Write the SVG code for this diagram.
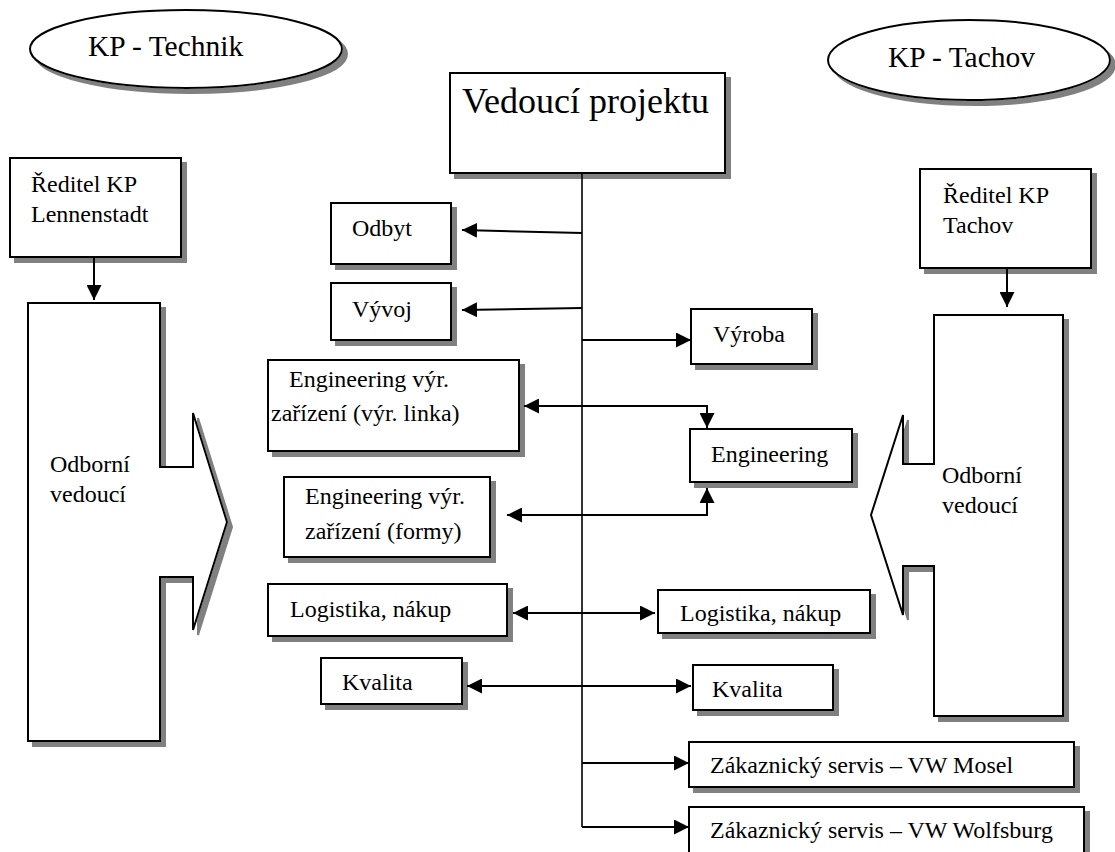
<svg xmlns="http://www.w3.org/2000/svg" width="1115" height="852" viewBox="0 0 1115 852">
  <style>
    .box { fill: #ffffff; stroke: #000000; stroke-width: 2; filter: url(#shadow); }
    .t { font-family: "Liberation Serif", "Times New Roman", serif; font-size: 24px; fill: #000000; }
    .big { font-size: 29.5px; }
    .title { font-size: 36px; }
    .link { fill: none; stroke: #000000; stroke-width: 2; }
    .trunk { fill: none; stroke: #000000; stroke-width: 1.6; }
  </style>
  <defs>
    <filter id="shadow" x="-10%" y="-10%" width="130%" height="130%">
      <feDropShadow dx="5" dy="5" stdDeviation="0" flood-color="#808080" flood-opacity="1"/>
    </filter>
    <marker id="head" viewBox="0 0 15 15" refX="15" refY="7.5" markerWidth="15" markerHeight="15" markerUnits="userSpaceOnUse" orient="auto-start-reverse">
      <path d="M0,0 L15,7.5 L0,15 Z" fill="#000000"/>
    </marker>
  </defs>
  <rect width="1115" height="852" fill="#ffffff"/>

  <!-- site labels -->
  <g id="kp-technik">
    <ellipse class="box" cx="186" cy="49" rx="156" ry="39"/>
    <text class="t big" x="88" y="56">KP - Technik</text>
  </g>
  <g id="kp-tachov">
    <ellipse class="box" cx="969" cy="60" rx="141" ry="40"/>
    <text class="t big" x="888" y="67">KP - Tachov</text>
  </g>

  <!-- project lead -->
  <g id="vedouci-projektu">
    <rect class="box" x="450" y="73" width="275" height="100"/>
    <text class="t title" x="462" y="113">Vedoucí projektu</text>
  </g>

  <!-- left side: Lennenstadt -->
  <g id="reditel-lennenstadt">
    <rect class="box" x="10" y="158" width="171" height="99"/>
    <text class="t" x="31" y="192">Ředitel KP</text>
    <text class="t" x="31" y="222">Lennenstadt</text>
  </g>
  <g id="odborni-vedouci-left">
    <path class="box" d="M28,303 H160 V467 H193 V413 L227,522 L193,630 V577 H160 V741 H28 Z"/>
    <text class="t" x="50" y="472">Odborní</text>
    <text class="t" x="50" y="502">vedoucí</text>
  </g>

  <!-- right side: Tachov -->
  <g id="reditel-tachov">
    <rect class="box" x="920" y="169" width="171" height="99"/>
    <text class="t" x="943" y="203">Ředitel KP</text>
    <text class="t" x="943" y="233">Tachov</text>
  </g>
  <g id="odborni-vedouci-right">
    <path class="box" d="M934,315 H1063 V716 H934 V566 H903 V615 L871,515 L903,415 V464 H934 Z"/>
    <text class="t" x="942" y="483">Odborní</text>
    <text class="t" x="942" y="513">vedoucí</text>
  </g>

  <!-- departments -->
  <g id="odbyt">
    <rect class="box" x="331" y="203" width="120" height="61"/>
    <text class="t" x="352" y="236">Odbyt</text>
  </g>
  <g id="vyvoj">
    <rect class="box" x="331" y="283" width="120" height="57"/>
    <text class="t" x="352" y="317">Vývoj</text>
  </g>
  <g id="vyroba">
    <rect class="box" x="691" y="309" width="121" height="55"/>
    <text class="t" x="713" y="342">Výroba</text>
  </g>
  <g id="engineering-linka">
    <rect class="box" x="268" y="360" width="251" height="91"/>
    <text class="t" x="289" y="387">Engineering výr.</text>
    <text class="t" x="271" y="421">zařízení (výr. linka)</text>
  </g>
  <g id="engineering">
    <rect class="box" x="690" y="429" width="162" height="53"/>
    <text class="t" x="711" y="462">Engineering</text>
  </g>
  <g id="engineering-formy">
    <rect class="box" x="284" y="477" width="206" height="80"/>
    <text class="t" x="305" y="504">Engineering výr.</text>
    <text class="t" x="305" y="539">zařízení (formy)</text>
  </g>
  <g id="logistika-left">
    <rect class="box" x="268" y="584" width="239" height="52"/>
    <text class="t" x="290" y="617">Logistika, nákup</text>
  </g>
  <g id="logistika-right">
    <rect class="box" x="658" y="590" width="212" height="43"/>
    <text class="t" x="680" y="621">Logistika, nákup</text>
  </g>
  <g id="kvalita-left">
    <rect class="box" x="321" y="658" width="141" height="46"/>
    <text class="t" x="342" y="690">Kvalita</text>
  </g>
  <g id="kvalita-right">
    <rect class="box" x="693" y="665" width="140" height="45"/>
    <text class="t" x="712" y="697">Kvalita</text>
  </g>
  <g id="servis-mosel">
    <rect class="box" x="689" y="742" width="385" height="45"/>
    <text class="t" x="710" y="773">Zákaznický servis – VW Mosel</text>
  </g>
  <g id="servis-wolfsburg">
    <rect class="box" x="689" y="807" width="395" height="70"/>
    <text class="t" x="710" y="838">Zákaznický servis – VW Wolfsburg</text>
  </g>

  <!-- connectors -->
  <g id="connectors">
    <path class="trunk" d="M582,173 V827"/>
    <path class="link" d="M582,233 L462,230" marker-end="url(#head)"/>
    <path class="link" d="M582,308 L462,310" marker-end="url(#head)"/>
    <path class="link" d="M582,340 H691" marker-end="url(#head)"/>
    <path class="link" d="M524,406 H707 V428" marker-start="url(#head)" marker-end="url(#head)"/>
    <path class="link" d="M507,515 H707 V488" marker-start="url(#head)" marker-end="url(#head)"/>
    <path class="link" d="M513,613 H655" marker-start="url(#head)" marker-end="url(#head)"/>
    <path class="link" d="M467,686 H691" marker-start="url(#head)" marker-end="url(#head)"/>
    <path class="link" d="M582,763 H689" marker-end="url(#head)"/>
    <path class="link" d="M582,827 H689" marker-end="url(#head)"/>
    <path class="link" d="M94,257 V300" marker-end="url(#head)"/>
    <path class="link" d="M1007,268 V307" marker-end="url(#head)"/>
  </g>
</svg>
